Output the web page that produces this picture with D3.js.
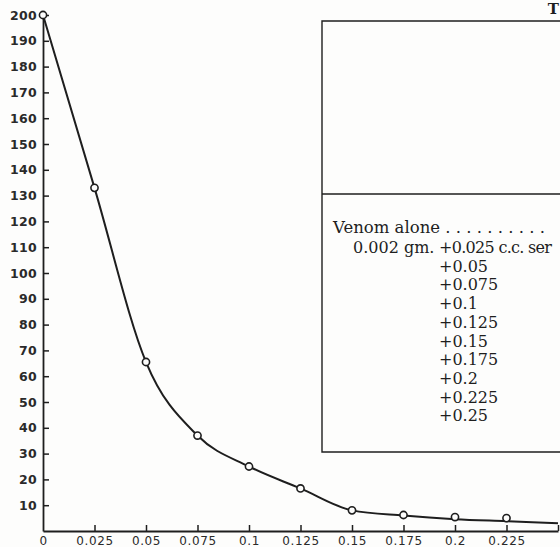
<!DOCTYPE html>
<html>
<head>
<meta charset="utf-8">
<script src="https://cdn.jsdelivr.net/npm/d3@7"></script>
<style>
  html, body { margin: 0; padding: 0; background: #fdfdfc; }
  svg { display: block; }
</style>
</head>
<body>
<svg id="chart" width="560" height="547"></svg>
<script>
// ---- data ----
const doses = [0, 0.025, 0.05, 0.075, 0.1, 0.125, 0.15, 0.175, 0.2, 0.225];
const times = [200, 133, 65.5, 37, 25, 16.5, 8, 6.2, 5.4, 5.0];
// smoothed curve drawn through (and past) the observations
const curveDoses = [0, 0.025, 0.05, 0.075, 0.1, 0.125, 0.15, 0.175, 0.2, 0.225, 0.25];
const curveTimes = [200, 133, 65.5, 37, 25, 16.5, 8, 6, 4.6, 3.8, 3.0];

const yTicks = [10, 20, 30, 40, 50, 60, 70, 80, 90, 100, 110, 120, 130, 140, 150, 160, 170, 180, 190, 200];
const xTicks = [0, 0.025, 0.05, 0.075, 0.1, 0.125, 0.15, 0.175, 0.2, 0.225, 0.25];
const xTickLabels = ["0", "0.025", "0.05", "0.075", "0.1", "0.125", "0.15", "0.175", "0.2", "0.225", ""];

const legendTitle = "Venom alone";
const legendLeader = " . . . . . . . . . .";
const legendDose = "0.002 gm.";
const legendRows = ["+0.025 c.c. ser", "+0.05", "+0.075", "+0.1", "+0.125", "+0.15", "+0.175", "+0.2", "+0.225", "+0.25"];
const cornerText = "T";

// ---- drawing ----
const svg = d3.select("#chart");
const ink = "#1e1e1e";

const x = d3.scaleLinear().domain([0, 0.25]).range([43, 558]);
const y = d3.scaleLinear().domain([0, 200]).range([531, 15]);

// Y axis (ticks pointing inward)
const yAxis = d3.axisLeft(y)
  .tickValues(yTicks)
  .tickSizeInner(-6)
  .tickSizeOuter(0)
  .tickPadding(6)
  .tickFormat(d3.format("d"));
const gy = svg.append("g").attr("transform", `translate(${x(0)},0)`).call(yAxis);
gy.select(".domain").attr("stroke", ink).attr("stroke-width", 1.8);
gy.selectAll(".tick line").attr("stroke", ink).attr("stroke-width", 1.5);
gy.selectAll(".tick text")
  .attr("fill", "#2a2a2a")
  .style("font-family", "'DejaVu Sans', sans-serif")
  .style("font-size", "12.5px")
  .style("font-weight", "bold")
  .style("letter-spacing", "0.3px");

// X axis (ticks pointing up)
const xAxis = d3.axisBottom(x)
  .tickValues(xTicks)
  .tickSizeInner(-6)
  .tickSizeOuter(0)
  .tickPadding(5)
  .tickFormat((d, i) => xTickLabels[i]);
const gx = svg.append("g").attr("transform", `translate(0,${y(0)})`).call(xAxis);
gx.select(".domain").attr("stroke", ink).attr("stroke-width", 1.8);
gx.selectAll(".tick line").attr("stroke", ink).attr("stroke-width", 1.5);
gx.selectAll(".tick").filter(d => d === 0).select("line").remove();
gx.selectAll(".tick text")
  .attr("fill", "#2a2a2a")
  .style("font-family", "'DejaVu Sans', sans-serif")
  .style("font-size", "12px")
  .style("letter-spacing", "0.6px");

// curve
const line = d3.line()
  .x((d, i) => x(curveDoses[i]))
  .y(d => y(d))
  .curve(d3.curveMonotoneX);
svg.append("path")
  .datum(curveTimes)
  .attr("d", line)
  .attr("fill", "none")
  .attr("stroke", ink)
  .attr("stroke-width", 2);

// observation circles
svg.append("g").selectAll("circle")
  .data(times)
  .join("circle")
  .attr("cx", (d, i) => x(doses[i]))
  .attr("cy", d => y(d))
  .attr("r", 3.6)
  .attr("fill", "#fdfdfc")
  .attr("stroke", ink)
  .attr("stroke-width", 1.6);

// legend / table box
const boxLeft = 322, boxTop = 21, boxDivider = 194, boxBottom = 452;
const lg = svg.append("g");
lg.append("path")
  .attr("d", `M560,${boxTop}H${boxLeft}V${boxBottom}H560`)
  .attr("fill", "none").attr("stroke", ink).attr("stroke-width", 1.4);
lg.append("line")
  .attr("x1", boxLeft).attr("x2", 560).attr("y1", boxDivider).attr("y2", boxDivider)
  .attr("stroke", ink).attr("stroke-width", 1.4);

const serif = "'DejaVu Serif', 'Liberation Serif', serif";
lg.append("text")
  .attr("x", 333).attr("y", 233)
  .style("font-family", serif).style("font-size", "16.5px").attr("fill", ink)
  .text(legendTitle + legendLeader);
lg.append("text")
  .attr("x", 353).attr("y", 253)
  .style("font-family", serif).style("font-size", "16px").attr("fill", ink)
  .text(legendDose);
lg.selectAll("text.row")
  .data(legendRows)
  .join("text")
  .attr("class", "row")
  .attr("x", 439)
  .attr("y", (d, i) => 253 + 18.7 * i)
  .style("font-family", serif).style("font-size", "16px").attr("fill", ink)
  .style("letter-spacing", (d, i) => i === 0 ? "-0.7px" : "0px")
  .text(d => d);

// heading glyph at top-right
lg.append("text")
  .attr("x", 559).attr("y", 14)
  .attr("text-anchor", "end")
  .style("font-family", serif).style("font-size", "15px").style("font-weight", "bold")
  .attr("fill", ink)
  .text(cornerText);
</script>
</body>
</html>
